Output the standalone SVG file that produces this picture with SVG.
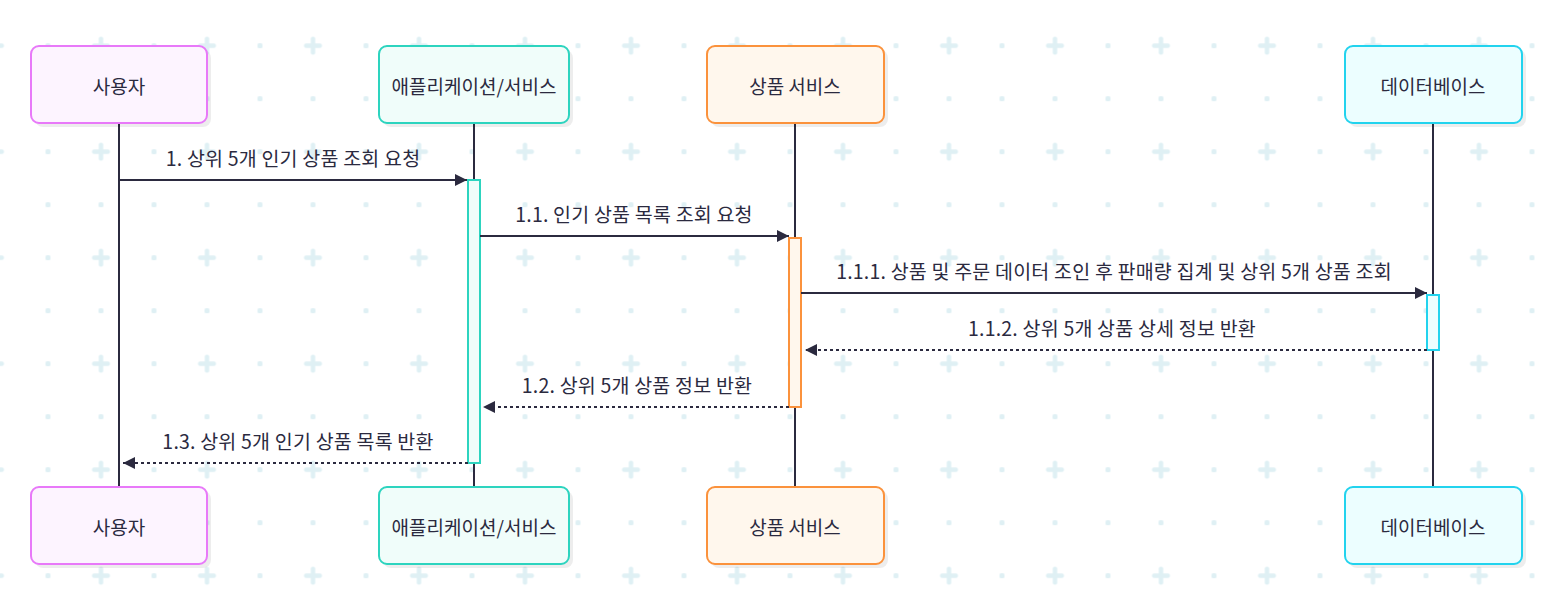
<svg xmlns="http://www.w3.org/2000/svg" width="1552" height="610" viewBox="0 0 1552 610">
<style>
  .lbl { font-family: "Noto Sans CJK KR", "Noto Sans", sans-serif; font-size: 19px; fill: #2b2a3f; text-anchor: middle; dominant-baseline: central; }
  .msg { font-family: "Noto Sans CJK KR", "Noto Sans", sans-serif; font-size: 19.5px; letter-spacing: 0.2px; fill: #2b2a3f; text-anchor: middle; }
  .life { stroke: #2b2a3f; stroke-width: 2; fill: none; }
  .line { stroke: #2b2a3f; stroke-width: 2; fill: none; }
  .dash { stroke-dasharray: 3 3; }
  .shadow { fill: #000; fill-opacity: 0.07; }
  .p1 { fill: #fdf4ff; stroke: #e879f9; stroke-width: 2; }
  .p2 { fill: #f0fdfa; stroke: #2dd4bf; stroke-width: 2; }
  .p3 { fill: #fff7ed; stroke: #fb923c; stroke-width: 2; }
  .p4 { fill: #ecfeff; stroke: #22d3ee; stroke-width: 2; }
  .bg { fill: #dff0f4; }
</style>
<defs>
  <pattern id="grid" x="21.5" y="-33.8" width="106" height="106" patternUnits="userSpaceOnUse">
    <rect class="bg" x="24" y="24" width="5" height="5" rx="1.5"/>
    <rect class="bg" x="77" y="24" width="5" height="5" rx="1.5"/>
    <rect class="bg" x="24" y="77" width="5" height="5" rx="1.5"/>
    <rect class="bg" x="70.5" y="77.25" width="18" height="4.5" rx="2"/>
    <rect class="bg" x="77.25" y="70.5" width="4.5" height="18" rx="2"/>
  </pattern>
  <marker id="arr" viewBox="0 0 12 12" refX="12" refY="6" markerWidth="12" markerHeight="12" markerUnits="userSpaceOnUse" orient="auto">
    <path d="M0,0 L12,6 L0,12 z" fill="#2b2a3f"/>
  </marker>
</defs>
<rect width="1552" height="610" fill="#ffffff"/>
<rect width="1552" height="610" fill="url(#grid)"/>

<g id="lifelines">
  <line class="life" x1="119" y1="123" x2="119" y2="487"/>
  <line class="life" x1="474" y1="123" x2="474" y2="487"/>
  <line class="life" x1="795" y1="123" x2="795" y2="487"/>
  <line class="life" x1="1433" y1="123" x2="1433" y2="487"/>
</g>

<g id="user-top">
  <rect class="shadow" x="35" y="50" width="176" height="77" rx="8"/>
  <rect class="p1" x="31" y="46" width="176" height="77" rx="8"/>
  <text class="lbl" x="119" y="85">사용자</text>
</g>
<g id="app-top">
  <rect class="shadow" x="383" y="50" width="190" height="77" rx="8"/>
  <rect class="p2" x="379" y="46" width="190" height="77" rx="8"/>
  <text class="lbl" x="474" y="85">애플리케이션/서비스</text>
</g>
<g id="product-top">
  <rect class="shadow" x="711" y="50" width="177" height="77" rx="8"/>
  <rect class="p3" x="707" y="46" width="177" height="77" rx="8"/>
  <text class="lbl" x="795" y="85">상품 서비스</text>
</g>
<g id="db-top">
  <rect class="shadow" x="1349" y="50" width="177" height="77" rx="8"/>
  <rect class="p4" x="1345" y="46" width="177" height="77" rx="8"/>
  <text class="lbl" x="1433" y="85">데이터베이스</text>
</g>

<g id="user-bottom">
  <rect class="shadow" x="35" y="491" width="176" height="77" rx="8"/>
  <rect class="p1" x="31" y="487" width="176" height="77" rx="8"/>
  <text class="lbl" x="119" y="526">사용자</text>
</g>
<g id="app-bottom">
  <rect class="shadow" x="383" y="491" width="190" height="77" rx="8"/>
  <rect class="p2" x="379" y="487" width="190" height="77" rx="8"/>
  <text class="lbl" x="474" y="526">애플리케이션/서비스</text>
</g>
<g id="product-bottom">
  <rect class="shadow" x="711" y="491" width="177" height="77" rx="8"/>
  <rect class="p3" x="707" y="487" width="177" height="77" rx="8"/>
  <text class="lbl" x="795" y="526">상품 서비스</text>
</g>
<g id="db-bottom">
  <rect class="shadow" x="1349" y="491" width="177" height="77" rx="8"/>
  <rect class="p4" x="1345" y="487" width="177" height="77" rx="8"/>
  <text class="lbl" x="1433" y="526">데이터베이스</text>
</g>

<g id="activations">
  <rect class="p2" x="468" y="180" width="12" height="283" stroke-width="1.5"/>
  <rect class="p3" x="789" y="238" width="12" height="169" stroke-width="1.5"/>
  <rect class="p4" x="1427" y="295" width="12" height="55" stroke-width="1.5"/>
</g>

<g id="connectors">
  <line class="line" x1="119" y1="180" x2="467" y2="180" marker-end="url(#arr)"/>
  <text class="msg" x="293" y="166">1. 상위 5개 인기 상품 조회 요청</text>

  <line class="line" x1="480" y1="236" x2="789" y2="236" marker-end="url(#arr)"/>
  <text class="msg" x="634" y="222">1.1. 인기 상품 목록 조회 요청</text>

  <line class="line" x1="801" y1="293" x2="1427" y2="293" marker-end="url(#arr)"/>
  <text class="msg" x="1114" y="279">1.1.1. 상품 및 주문 데이터 조인 후 판매량 집계 및 상위 5개 상품 조회</text>

  <line class="line dash" x1="1427" y1="350" x2="805" y2="350" marker-end="url(#arr)"/>
  <text class="msg" x="1112" y="336">1.1.2. 상위 5개 상품 상세 정보 반환</text>

  <line class="line dash" x1="789" y1="407" x2="483" y2="407" marker-end="url(#arr)"/>
  <text class="msg" x="637" y="393">1.2. 상위 5개 상품 정보 반환</text>

  <line class="line dash" x1="468" y1="463" x2="123" y2="463" marker-end="url(#arr)"/>
  <text class="msg" x="298" y="449">1.3. 상위 5개 인기 상품 목록 반환</text>
</g>
</svg>
